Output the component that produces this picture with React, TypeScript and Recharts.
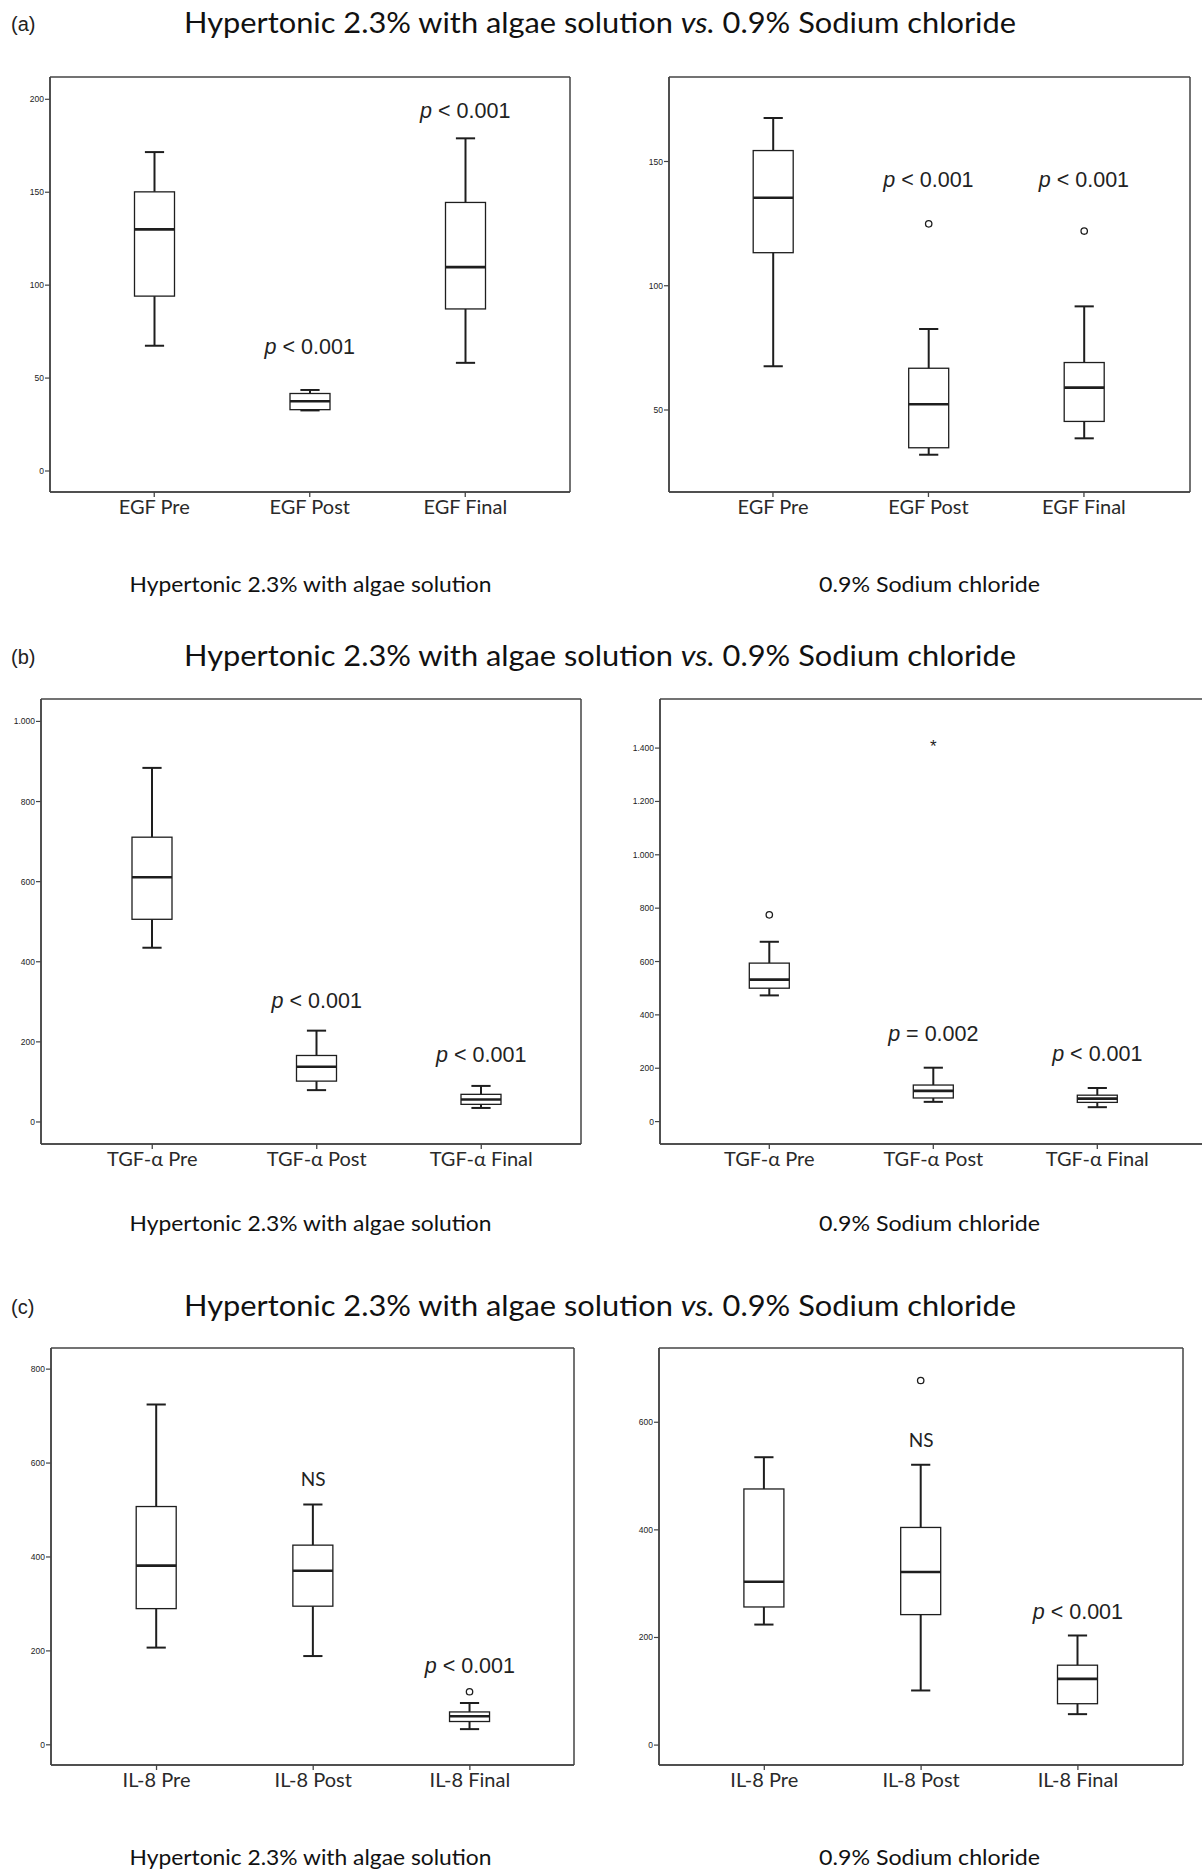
import React from "react";
import { ComposedChart, Bar, XAxis, YAxis, CartesianGrid, ReferenceDot } from "recharts";

const EGF_CATS = ["EGF Pre", "EGF Post", "EGF Final"];
const TGF_CATS = ["TGF-α Pre", "TGF-α Post", "TGF-α Final"];
const IL8_CATS = ["IL-8 Pre", "IL-8 Post", "IL-8 Final"];

// [lower whisker, Q1, median, Q3, upper whisker] per category
const egfAlgae = [[67.4, 94.1, 130, 150.2, 171.6], [32.6, 33, 37.5, 41.7, 43.6], [58.2, 87.2, 109.7, 144.5, 179]];
const egfSaline = [[67.6, 113.3, 135.4, 154.4, 167.5], [32, 34.8, 52.3, 66.8, 82.6], [38.6, 45.4, 59, 69.1, 91.7]];
const tgfAlgae = [[435, 506, 611, 711, 884], [79.5, 102, 138, 166, 228], [35, 44, 56, 69, 90]];
const tgfSaline = [[473, 500, 532, 594, 674], [74, 88.5, 115, 137, 202], [54, 72, 86, 99, 126]];
const il8Algae = [[207, 290, 381.6, 507.4, 724.7], [189, 295.2, 370.5, 425.2, 511.6], [33.4, 49.6, 60.7, 70, 89]];
const il8Saline = [[224, 256.7, 303.7, 476, 535], [101.5, 242.5, 321.7, 404.5, 521], [57.5, 76.9, 123, 148.5, 203.7]];

// outliers (circles) and extremes (stars)
const egfSalineOutliers = [[], [124.9], [122]];
const tgfSalineOutliers = [[775], [], []];
const tgfSalineExtremes = [[], [1426], []];
const il8AlgaeOutliers = [[], [], [113]];
const il8SalineOutliers = [[], [677.6], []];

// significance notes and the value they sit at
const egfAlgaeNotes = ["", "p < 0.001", "p < 0.001"];
const egfAlgaeNoteAt = [0, 67, 194];
const egfSalineNotes = ["", "p < 0.001", "p < 0.001"];
const egfSalineNoteAt = [0, 142.7, 142.7];
const tgfAlgaeNotes = ["", "p < 0.001", "p < 0.001"];
const tgfAlgaeNoteAt = [0, 303, 169];
const tgfSalineNotes = ["", "p = 0.002", "p < 0.001"];
const tgfSalineNoteAt = [0, 331, 255];
const il8AlgaeNotes = ["", "NS", "p < 0.001"];
const il8AlgaeNoteAt = [0, 566, 169];
const il8SalineNotes = ["", "NS", "p < 0.001"];
const il8SalineNoteAt = [0, 567, 248];

// y axes
const egfAlgaeTicks = [0, 50, 100, 150, 200];
const egfAlgaeDomain = [-11.3, 212];
const egfSalineTicks = [50, 100, 150];
const egfSalineDomain = [17, 184];
const tgfAlgaeTicks = [0, 200, 400, 600, 800, 1000];
const tgfAlgaeDomain = [-55, 1056];
const tgfSalineTicks = [0, 200, 400, 600, 800, 1000, 1200, 1400];
const tgfSalineDomain = [-84, 1584];
const il8AlgaeTicks = [0, 200, 400, 600, 800];
const il8AlgaeDomain = [-43, 845];
const il8SalineTicks = [0, 200, 400, 600];
const il8SalineDomain = [-37, 738];

const INK = "#1e1e1e";
const FRAME = "#444";

const fmtTick = (v: number) =>
  v >= 1000 ? `${Math.floor(v / 1000)}.${String(v % 1000).padStart(3, "0")}` : String(v);

const BoxShape = (props: any) => {
  const { x, y, width, height, payload } = props;
  if (!payload) return null;
  const [lo, hi] = payload.span;
  const top = Math.min(y, y + height);
  const bot = Math.max(y, y + height);
  const py = (v: number) => top + ((hi - v) / (hi - lo)) * (bot - top);
  const cx = x + width / 2;
  const cap = width * 0.24;
  return (
    <g>
      <line x1={cx} x2={cx} y1={py(payload.high)} y2={py(payload.q3)} stroke={INK} strokeWidth={2} />
      <line x1={cx} x2={cx} y1={py(payload.q1)} y2={py(payload.low)} stroke={INK} strokeWidth={2} />
      <line x1={cx - cap} x2={cx + cap} y1={py(payload.high)} y2={py(payload.high)} stroke={INK} strokeWidth={2} />
      <line x1={cx - cap} x2={cx + cap} y1={py(payload.low)} y2={py(payload.low)} stroke={INK} strokeWidth={2} />
      <rect x={x} y={py(payload.q3)} width={width} height={py(payload.q1) - py(payload.q3)} fill="#fff" stroke={INK} strokeWidth={1.3} />
      <line x1={x} x2={x + width} y1={py(payload.med)} y2={py(payload.med)} stroke={INK} strokeWidth={2.6} />
      {payload.out.map((v: number, i: number) => (
        <circle key={"o" + i} cx={cx} cy={py(v)} r={3.2} fill="#fff" stroke={INK} strokeWidth={1.3} />
      ))}
      {payload.ext.map((v: number, i: number) => (
        <text key={"e" + i} x={cx} y={py(v)} dy="0.62em" textAnchor="middle" fontFamily="Liberation Sans" fontSize={17} fill={INK}>
          *
        </text>
      ))}
    </g>
  );
};

const NoteText = ({ vb, text }: { vb: any; text: string }) => {
  if (!vb) return null;
  const cx = vb.x + (vb.width || 0) / 2;
  const cy = vb.y + (vb.height || 0) / 2;
  if (text === "NS") {
    return (
      <text x={cx} y={cy} dy="0.36em" textAnchor="middle" fontFamily="Lato" fontSize={19} fill="#222">
        NS
      </text>
    );
  }
  return (
    <text x={cx} y={cy} dy="0.36em" textAnchor="middle" fontFamily="Liberation Sans" fontSize={21.5} fill="#222">
      <tspan fontStyle="italic">p</tspan>
      {text.slice(1)}
    </text>
  );
};

type PanelProps = {
  cats: string[];
  stats: number[][];
  outliers?: number[][];
  extremes?: number[][];
  notes: string[];
  noteAt: number[];
  ticks: number[];
  domain: number[];
  frame: [number, number, number, number];
  pad: [number, number];
};

const YW = 40;
const MT = 10;
const MR = 5;
const MB = 40;

const BoxPanel = ({ cats, stats, outliers, extremes, notes, noteAt, ticks, domain, frame, pad }: PanelProps) => {
  const rows = cats.map((name, i) => {
    const [low, q1, med, q3, high] = stats[i];
    const out = outliers?.[i] ?? [];
    const ext = extremes?.[i] ?? [];
    const all = [low, high, ...out, ...ext];
    return { name, low, q1, med, q3, high, out, ext, span: [Math.min(...all), Math.max(...all)] };
  });
  const [fx, fy, fw, fh] = frame;
  return (
    <div style={{ position: "absolute", left: fx - YW, top: fy - MT }}>
      <ComposedChart
        width={fw + YW + MR}
        height={fh + MT + MB}
        data={rows}
        margin={{ top: MT, right: MR, left: 0, bottom: MB - 40 }}
      >
        <CartesianGrid
          stroke={FRAME}
          strokeWidth={1.5}
          horizontalCoordinatesGenerator={({ offset }: any) => [offset.top, offset.top + offset.height]}
          verticalCoordinatesGenerator={({ offset }: any) => [offset.left, offset.left + offset.width]}
        />
        <XAxis
          dataKey="name"
          type="category"
          interval={0}
          height={40}
          padding={{ left: pad[0], right: pad[1] }}
          tickSize={5}
          tickMargin={3}
          axisLine={{ stroke: FRAME, strokeWidth: 1.5 }}
          tickLine={{ stroke: FRAME, strokeWidth: 1.3 }}
          tick={{ fontFamily: "Lato", fontSize: 20, fill: "#2a2a2a" }}
        />
        <YAxis
          type="number"
          width={YW}
          domain={domain}
          ticks={ticks}
          allowDataOverflow
          tickSize={5}
          tickMargin={1}
          tickFormatter={fmtTick}
          axisLine={{ stroke: FRAME, strokeWidth: 1.5 }}
          tickLine={{ stroke: FRAME, strokeWidth: 1.2 }}
          tick={{ fontFamily: "Liberation Sans", fontSize: 8.5, fill: "#222" }}
        />
        <Bar dataKey="span" barSize={40} shape={BoxShape} isAnimationActive={false} fill="none" />
        {cats.map((c, i) =>
          notes[i] ? (
            <ReferenceDot
              key={c}
              x={c}
              y={noteAt[i]}
              r={0}
              fill="none"
              stroke="none"
              label={(p: any) => <NoteText vb={p.viewBox} text={notes[i]} />}
            />
          ) : null
        )}
      </ComposedChart>
    </div>
  );
};

const TITLE = "Hypertonic 2.3% with algae solution ";
const TITLE_END = " 0.9% Sodium chloride";
const SUB_LEFT = "Hypertonic 2.3% with algae solution";
const SUB_RIGHT = "0.9% Sodium chloride";

const Header = ({ letter, base }: { letter: string; base: number }) => (
  <g>
    <text x={11} y={base - 2} fontFamily="Liberation Sans" fontSize={20} fill="#222">
      {letter}
    </text>
    <text x={600} y={base} textAnchor="middle" fontFamily="Lato" fontSize={29} fill="#111" textLength={832} lengthAdjust="spacingAndGlyphs">
      {TITLE}
      <tspan fontStyle="italic">vs.</tspan>
      {TITLE_END}
    </text>
  </g>
);

const Footer = ({ base }: { base: number }) => (
  <g>
    <text x={310.5} y={base} textAnchor="middle" fontFamily="Lato" fontSize={21} fill="#111" textLength={362} lengthAdjust="spacingAndGlyphs">
      {SUB_LEFT}
    </text>
    <text x={929.5} y={base} textAnchor="middle" fontFamily="Lato" fontSize={21} fill="#111" textLength={221} lengthAdjust="spacingAndGlyphs">
      {SUB_RIGHT}
    </text>
  </g>
);

export default function App() {
  return (
    <div style={{ position: "absolute", left: 0, top: 0, width: 1202, height: 1870, overflow: "hidden", background: "#fff" }}>
      <svg width={1202} height={1870} style={{ position: "absolute", left: 0, top: 0 }}>
        <Header letter="(a)" base={33} />
        <Footer base={592} />
        <Header letter="(b)" base={666} />
        <Footer base={1231} />
        <Header letter="(c)" base={1316} />
        <Footer base={1865} />
      </svg>
      <BoxPanel cats={EGF_CATS} stats={egfAlgae} notes={egfAlgaeNotes} noteAt={egfAlgaeNoteAt} ticks={egfAlgaeTicks} domain={egfAlgaeDomain} frame={[50, 77, 520, 415]} pad={[26.5, 27]} />
      <BoxPanel cats={EGF_CATS} stats={egfSaline} outliers={egfSalineOutliers} notes={egfSalineNotes} noteAt={egfSalineNoteAt} ticks={egfSalineTicks} domain={egfSalineDomain} frame={[669, 77, 521, 415]} pad={[26.2, 28.3]} />
      <BoxPanel cats={TGF_CATS} stats={tgfAlgae} notes={tgfAlgaeNotes} noteAt={tgfAlgaeNoteAt} ticks={tgfAlgaeTicks} domain={tgfAlgaeDomain} frame={[41, 699, 540, 445]} pad={[29, 17.5]} />
      <BoxPanel cats={TGF_CATS} stats={tgfSaline} outliers={tgfSalineOutliers} extremes={tgfSalineExtremes} notes={tgfSalineNotes} noteAt={tgfSalineNoteAt} ticks={tgfSalineTicks} domain={tgfSalineDomain} frame={[659.5, 699, 548.5, 445]} pad={[27.3, 29.2]} />
      <BoxPanel cats={IL8_CATS} stats={il8Algae} outliers={il8AlgaeOutliers} notes={il8AlgaeNotes} noteAt={il8AlgaeNoteAt} ticks={il8AlgaeTicks} domain={il8AlgaeDomain} frame={[51, 1348, 523, 417]} pad={[27.2, 25.8]} />
      <BoxPanel cats={IL8_CATS} stats={il8Saline} outliers={il8SalineOutliers} notes={il8SalineNotes} noteAt={il8SalineNoteAt} ticks={il8SalineTicks} domain={il8SalineDomain} frame={[659, 1348, 524, 417]} pad={[26.9, 26.7]} />
    </div>
  );
}
